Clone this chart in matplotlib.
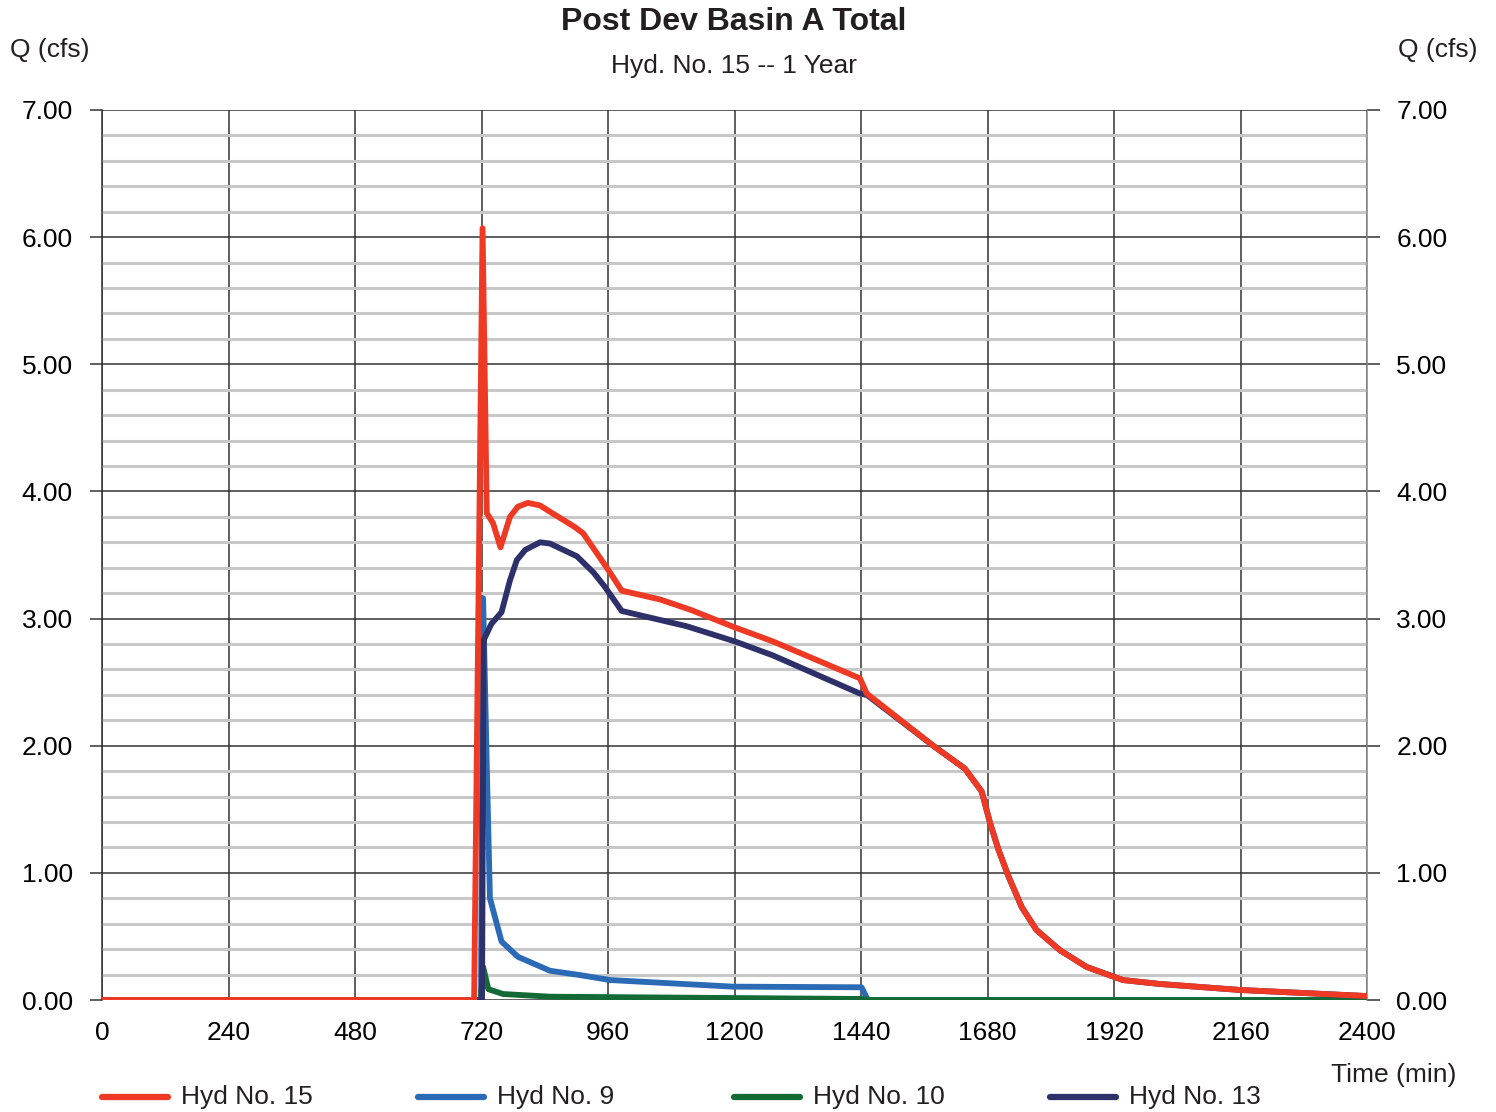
import matplotlib.pyplot as plt
from matplotlib.lines import Line2D
from matplotlib.ticker import MultipleLocator

plt.rcParams['font.family'] = ['Liberation Sans', 'DejaVu Sans']

# Hydrograph ordinates, time in minutes, flow in cfs
t_hyd15 = [0, 706, 722, 730, 742, 756, 774, 789, 808, 831, 850, 897, 913, 961, 986,
           1059, 1116, 1201, 1273, 1438, 1451, 1577, 1637, 1669, 1685, 1701, 1720,
           1745, 1773, 1818, 1868, 1937, 2007, 2159, 2400]
q_hyd15 = [0, 0, 6.07, 3.83, 3.75, 3.56, 3.80, 3.88, 3.91, 3.89, 3.84, 3.72, 3.67, 3.38, 3.22,
           3.15, 3.07, 2.93, 2.82, 2.53, 2.41, 2.00, 1.82, 1.64, 1.39, 1.18, 0.97,
           0.73, 0.55, 0.39, 0.26, 0.157, 0.126, 0.079, 0.031]

t_hyd9 = [0, 719, 723, 730, 736, 758, 789, 850, 907, 964, 1197, 1441, 1453, 2400]
q_hyd9 = [0, 0, 3.16, 1.84, 0.80, 0.46, 0.34, 0.23, 0.196, 0.157, 0.105, 0.10, 0, 0]

t_hyd10 = [0, 719, 723, 733, 761, 850, 1210, 1444, 1455, 2400]
q_hyd10 = [0, 0, 0.26, 0.085, 0.047, 0.026, 0.015, 0.008, 0, 0]

t_hyd13 = [0, 721, 724, 739, 758, 774, 787, 803, 831, 850, 901, 933, 954, 986,
           1109, 1201, 1273, 1438, 1451, 1577, 1637, 1669, 1685, 1701, 1720,
           1745, 1773, 1818, 1868, 1937, 2007, 2159, 2400]
q_hyd13 = [0, 0, 2.83, 2.96, 3.05, 3.30, 3.46, 3.54, 3.60, 3.59, 3.49, 3.36, 3.25, 3.06,
           2.94, 2.82, 2.71, 2.41, 2.40, 2.00, 1.82, 1.64, 1.39, 1.18, 0.97,
           0.73, 0.55, 0.39, 0.26, 0.157, 0.126, 0.079, 0.031]

series = [
    ('Hyd No. 15', t_hyd15, q_hyd15, '#ee3a24', 5),
    ('Hyd No. 9', t_hyd9, q_hyd9, '#2b6bb5', 2),
    ('Hyd No. 10', t_hyd10, q_hyd10, '#136a35', 3),
    ('Hyd No. 13', t_hyd13, q_hyd13, '#2e3169', 4),
]

x_ticks = list(range(0, 2401, 240))

W, H = 1496, 1112
fig = plt.figure(figsize=(W / 100, H / 100), dpi=100)
ax = fig.add_axes([102 / W, 1 - 1000 / H, (1367 - 102) / W, (1000 - 110) / H])

for name, t, q, color, z in series:
    ax.plot(t, q, color=color, lw=4.2, zorder=z, solid_joinstyle='round')

ax.set_xlim(0, 2400)
ax.set_ylim(0, 7)
ax.set_xticks(x_ticks)
ax.yaxis.set_major_locator(MultipleLocator(1))
ax.yaxis.set_minor_locator(MultipleLocator(0.2))
ax.yaxis.set_major_formatter(lambda v, p: f'{v:.2f}')

ax.grid(which='major', axis='both', color='#333333', lw=1.1, zorder=0.5)
ax.grid(which='minor', axis='y', color='#c8c8c8', lw=2.2, zorder=0.4)
ax.set_axisbelow(True)

for side in ['top', 'bottom']:
    ax.spines[side].set_visible(False)
ax.spines['left'].set_color('#333333')
ax.spines['right'].set_color('#888888')
ax.spines['left'].set_linewidth(1.1)
ax.spines['right'].set_linewidth(1.1)

ax.tick_params(axis='x', length=0, labelsize=19, pad=15)
ax.tick_params(axis='y', which='major', length=9, width=1.1, color='#333333',
               labelsize=19, pad=12, left=True, right=True, labelleft=True, labelright=True)
ax.tick_params(axis='y', which='minor', length=0)

fig.text(734 / W, 1 - 22 / H, 'Post Dev Basin A Total', ha='center', va='center',
         fontsize=23, fontweight='bold', color='#231f20')
fig.text(734 / W, 1 - 66 / H, 'Hyd. No. 15 -- 1 Year', ha='center', va='center',
         fontsize=19, color='#231f20')
fig.text(10 / W, 1 - 50 / H, 'Q (cfs)', ha='left', va='center', fontsize=19, color='#231f20')
fig.text(1478 / W, 1 - 50 / H, 'Q (cfs)', ha='right', va='center', fontsize=19, color='#231f20')
fig.text(1456 / W, 1 - 1075 / H, 'Time (min)', ha='right', va='center', fontsize=19,
         color='#231f20')

# legend row along the bottom edge
for i, (name, t, q, color, z) in enumerate(series):
    x0 = 102 + 316 * i
    fig.add_artist(Line2D([x0 / W, (x0 + 66) / W], [1 - 1097 / H] * 2, color=color, lw=4.5,
                          solid_capstyle='round', transform=fig.transFigure))
    fig.text((x0 + 79) / W, 1 - 1097 / H, name, ha='left', va='center', fontsize=19,
             color='#231f20')

fig.savefig('out.png', dpi=100)
